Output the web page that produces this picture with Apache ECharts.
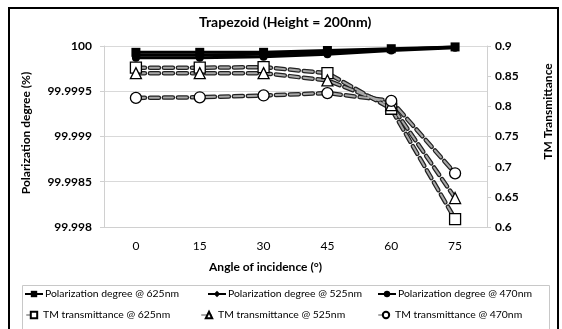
<style>body { margin: 0; }</style>
<div id="main" style="width:562px; height:329px;"></div>

<script src="https://cdn.jsdelivr.net/npm/echarts@6/dist/echarts.min.js"></script>
<script>
var angles = ['0', '15', '30', '45', '60', '75'];

var pol625 = [99.99993, 99.99993, 99.99993, 99.99995, 99.99997, 99.99999];
var pol525 = [99.99990, 99.99990, 99.99991, 99.99993, 99.99996, 99.99999];
var pol470 = [99.99987, 99.99987, 99.99988, 99.99991, 99.99995, 99.99998];

var tm625 = [0.864, 0.864, 0.865, 0.855, 0.796, 0.613];
var tm525 = [0.855, 0.855, 0.855, 0.843, 0.802, 0.648];
var tm470 = [0.814, 0.815, 0.818, 0.822, 0.809, 0.689];

var font = 'Lato';
var myChart = echarts.init(document.getElementById('main'));

function polSeries(name, data, symbol, size) {
	return {
		name: name, type: 'line', yAxisIndex: 0, data: data, z: 5,
		symbol: symbol, symbolSize: size,
		lineStyle: {color: '#000', width: 3},
		itemStyle: {color: '#000'}
	};
}

// dashed TM lines: a thick black dash under a thin grey one gives the outlined look
function tmSeries(name, data, symbol, size) {
	return [{
		type: 'line', yAxisIndex: 1, data: data, z: 2, silent: true,
		symbol: 'none',
		lineStyle: {color: '#222', width: 4.5, type: [9, 5], cap: 'round'}
	}, {
		name: name, type: 'line', yAxisIndex: 1, data: data, z: 3,
		symbol: symbol, symbolSize: size,
		lineStyle: {color: '#a8a8a8', width: 2, type: [9, 5], cap: 'round'},
		itemStyle: {color: '#fff', borderColor: '#000', borderWidth: 1.3}
	}];
}

var names = [
	'Polarization degree @ 625nm', 'Polarization degree @ 525nm', 'Polarization degree @ 470nm',
	'TM transmittance @ 625nm', 'TM transmittance @ 525nm', 'TM transmittance @ 470nm'
];
var legendLeft = [24, 207, 377, 26, 201, 378];

var legends = names.map(function (n, i) {
	return {
		data: [n], left: legendLeft[i], top: i < 3 ? 289 : 310,
		itemWidth: i < 3 ? 18 : 14, itemHeight: 8, itemGap: 2, padding: 0,
		textStyle: {fontFamily: font, fontSize: 10.4, color: '#000', padding: [0, 0, 0, -3]}
	};
});

myChart.setOption({
	backgroundColor: '#fff',
	animation: false,
	title: {
		text: 'Trapezoid (Height = 200nm)', left: 199, top: 15, padding: 0,
		textStyle: {fontFamily: font, fontSize: 14, fontWeight: 'bold', color: '#000'}
	},
	legend: legends,
	grid: {left: 104, right: 68, top: 46, bottom: 102},
	xAxis: {
		type: 'category', data: angles,
		name: 'Angle of incidence (°)', nameLocation: 'middle', nameGap: 34,
		nameTextStyle: {fontFamily: font, fontSize: 12, fontWeight: 'bold', color: '#000', padding: [0, 60, 0, 0]},
		axisLine: {lineStyle: {color: '#d0d0d0'}},
		axisTick: {lineStyle: {color: '#d0d0d0'}, length: 4},
		axisLabel: {fontFamily: font, fontSize: 12, color: '#000', margin: 13}
	},
	yAxis: [{
		type: 'value', min: 99.998, max: 100, interval: 0.0005,
		name: 'Polarization degree (%)', nameLocation: 'middle', nameGap: 72,
		nameTextStyle: {fontFamily: font, fontSize: 12, fontWeight: 'bold', color: '#000', padding: [0, 0, 0, 7]},
		axisLine: {show: true, lineStyle: {color: '#d0d0d0'}},
		axisTick: {show: true, length: 4, lineStyle: {color: '#d0d0d0'}},
		axisLabel: {fontFamily: font, fontSize: 12, fontWeight: 'bold', color: '#000', margin: 12},
		splitLine: {lineStyle: {color: '#d9d9d9'}}
	}, {
		type: 'value', min: 0.6, max: 0.9, interval: 0.05,
		name: 'TM Transmittance', nameLocation: 'middle', nameGap: 55, nameRotate: 90,
		nameTextStyle: {fontFamily: font, fontSize: 12, fontWeight: 'bold', color: '#000', padding: [0, 0, 0, 50]},
		axisLine: {show: true, lineStyle: {color: '#d0d0d0'}},
		axisTick: {show: true, length: 4, lineStyle: {color: '#d0d0d0'}},
		axisLabel: {fontFamily: font, fontSize: 12, fontWeight: 'bold', color: '#000', margin: 8,
			formatter: function (v) { return +v.toFixed(2) + ''; }},
		splitLine: {show: false}
	}],
	graphic: [{
		type: 'rect', shape: {x: 9, y: 8, width: 549, height: 330}, silent: true,
		style: {fill: 'none', stroke: '#000', lineWidth: 2}
	}, {
		type: 'rect', shape: {x: 22.5, y: 285.5, width: 527, height: 50}, silent: true,
		style: {fill: 'none', stroke: '#c8c8c8', lineWidth: 1}
	}],
	series: [].concat(
		tmSeries(names[3], tm625, 'rect', 11),
		tmSeries(names[4], tm525, 'triangle', 11),
		tmSeries(names[5], tm470, 'circle', 11),
		[polSeries(names[2], pol470, 'circle', 8),
		 polSeries(names[1], pol525, 'diamond', 8),
		 polSeries(names[0], pol625, 'rect', 9)]
	)
});
</script>
